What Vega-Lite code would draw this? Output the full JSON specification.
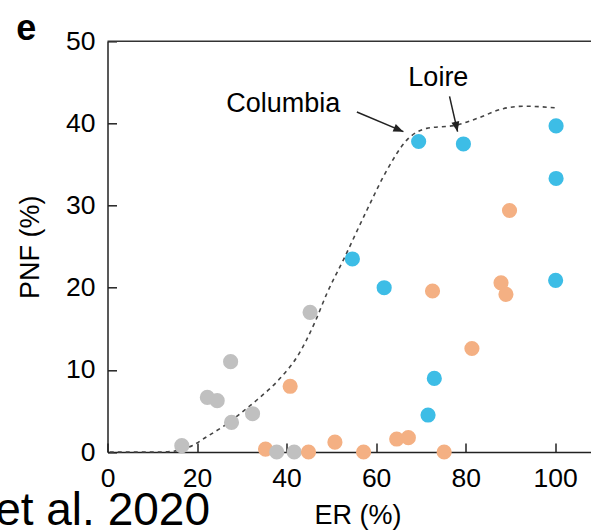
{
  "$schema": "https://vega.github.io/schema/vega-lite/v6.json",
  "width": 483.5,
  "height": 410.7,
  "autosize": "none",
  "padding": {"left": 107.5, "top": 41.3, "right": 0, "bottom": 80},
  "config": {"view": {"stroke": null}, "font": "Liberation Sans"},
  "datasets": {
    "points": [
      {"x": 16.6, "y": 0.77, "group": "gray"},
      {"x": 22.3, "y": 6.65, "group": "gray"},
      {"x": 24.5, "y": 6.25, "group": "gray"},
      {"x": 27.5, "y": 11.0, "group": "gray"},
      {"x": 27.7, "y": 3.6, "group": "gray"},
      {"x": 32.4, "y": 4.66, "group": "gray"},
      {"x": 35.3, "y": 0.36, "group": "orange"},
      {"x": 37.8, "y": 0, "group": "gray"},
      {"x": 40.8, "y": 8.0, "group": "orange"},
      {"x": 41.7, "y": 0, "group": "gray"},
      {"x": 44.9, "y": 0, "group": "orange"},
      {"x": 45.25, "y": 17.0, "group": "gray"},
      {"x": 50.8, "y": 1.2, "group": "orange"},
      {"x": 54.7, "y": 23.5, "group": "blue"},
      {"x": 57.2, "y": 0, "group": "orange"},
      {"x": 61.8, "y": 20.0, "group": "blue"},
      {"x": 64.6, "y": 1.58, "group": "orange"},
      {"x": 67.2, "y": 1.74, "group": "orange"},
      {"x": 69.5, "y": 37.8, "group": "blue"},
      {"x": 71.6, "y": 4.5, "group": "blue"},
      {"x": 72.6, "y": 19.6, "group": "orange"},
      {"x": 73.0, "y": 8.96, "group": "blue"},
      {"x": 75.2, "y": 0, "group": "orange"},
      {"x": 79.5, "y": 37.5, "group": "blue"},
      {"x": 81.4, "y": 12.6, "group": "orange"},
      {"x": 87.9, "y": 20.6, "group": "orange"},
      {"x": 89.0, "y": 19.2, "group": "orange"},
      {"x": 89.8, "y": 29.4, "group": "orange"},
      {"x": 100.1, "y": 20.9, "group": "blue"},
      {"x": 100.2, "y": 33.3, "group": "blue"},
      {"x": 100.2, "y": 39.7, "group": "blue"}
    ],
    "curve": [
      {"x": 0.5, "y": 0}, {"x": 12, "y": 0}, {"x": 16, "y": 0.2}, {"x": 19, "y": 0.8},
      {"x": 22, "y": 1.8}, {"x": 25.8, "y": 3.1}, {"x": 29.5, "y": 4.6}, {"x": 33.3, "y": 6.3},
      {"x": 38.6, "y": 9.0}, {"x": 42.6, "y": 11.8}, {"x": 46.4, "y": 15.9}, {"x": 49, "y": 19.3},
      {"x": 52.7, "y": 23.4}, {"x": 57.9, "y": 29.4}, {"x": 62.4, "y": 34.3}, {"x": 66.9, "y": 38},
      {"x": 71.3, "y": 39.4}, {"x": 78, "y": 39.8}, {"x": 82.5, "y": 40.6}, {"x": 88.4, "y": 41.8},
      {"x": 92.9, "y": 42.1}, {"x": 100, "y": 41.9}
    ]
  },
  "encoding": {
    "x": {
      "field": "x", "type": "quantitative",
      "scale": {"domain": [0, 108], "nice": false, "zero": false},
      "axis": {
        "values": [0, 20, 40, 60, 80, 100], "title": "ER (%)", "grid": false,
        "tickSize": -9, "tickWidth": 1.5, "tickColor": "#222",
        "domainColor": "#222", "domainWidth": 1.5,
        "labelFontSize": 26.5, "labelColor": "#000", "labelPadding": 22, "labelFlush": false,
        "titleFontSize": 27, "titleFontWeight": "normal", "titleColor": "#000",
        "titlePadding": 11, "titleX": 250
      }
    },
    "y": {
      "field": "y", "type": "quantitative",
      "scale": {"domain": [0, 50], "nice": false, "zero": false},
      "axis": {
        "values": [0, 10, 20, 30, 40, 50], "title": "PNF (%)", "grid": false,
        "tickSize": -9, "tickWidth": 1.5, "tickColor": "#222",
        "domainColor": "#222", "domainWidth": 1.5,
        "labelFontSize": 26.5, "labelColor": "#000", "labelPadding": 21.5, "labelFlush": false,
        "titleFontSize": 27, "titleFontWeight": "normal", "titleColor": "#000",
        "titlePadding": 21
      }
    }
  },
  "layer": [
    {
      "data": {"values": [{"x": 0, "x2": 108, "y": 50}]},
      "mark": {"type": "rule", "color": "#333", "strokeWidth": 1.5},
      "encoding": {"x2": {"field": "x2"}}
    },
    {
      "data": {"name": "curve"},
      "mark": {"type": "line", "interpolate": "monotone", "color": "#444", "strokeWidth": 1.6, "strokeDash": [4, 4]}
    },
    {
      "data": {"name": "points"},
      "mark": {"type": "circle", "size": 230, "opacity": 1},
      "encoding": {
        "color": {
          "field": "group", "type": "nominal", "legend": null,
          "scale": {"domain": ["gray", "orange", "blue"], "range": ["#c0c0c0", "#f4b083", "#3dbde6"]}
        }
      }
    },
    {
      "data": {"values": [{"x": 55.7, "y": 41.4, "x2": 66.1, "y2": 39.0}, {"x": 76.4, "y": 43.3, "x2": 78.2, "y2": 39.0}]},
      "mark": {"type": "rule", "color": "#222", "strokeWidth": 1.5},
      "encoding": {"x2": {"field": "x2"}, "y2": {"field": "y2"}}
    },
    {
      "data": {"values": [{"x": 66.1, "y": 39.0}]},
      "mark": {"type": "point", "shape": "M0,0L-2,-0.8L-2,0.8Z", "size": 100, "filled": true, "color": "#222", "opacity": 1, "angle": 23}
    },
    {
      "data": {"values": [{"x": 78.2, "y": 39.0}]},
      "mark": {"type": "point", "shape": "M0,0L-2,-0.8L-2,0.8Z", "size": 100, "filled": true, "color": "#222", "opacity": 1, "angle": 77}
    },
    {
      "data": {"values": [{"x": 26.5, "y": 41.4, "label": "Columbia"}, {"x": 67.2, "y": 44.5, "label": "Loire"}]},
      "mark": {"type": "text", "align": "left", "baseline": "alphabetic", "fontSize": 27, "color": "#000"},
      "encoding": {"text": {"field": "label"}}
    },
    {
      "data": {"values": [{"x": -20.4, "y": 50.2, "label": "e"}]},
      "mark": {"type": "text", "align": "left", "baseline": "alphabetic", "fontSize": 36, "fontWeight": "bold", "color": "#000"},
      "encoding": {"text": {"field": "label"}}
    },
    {
      "data": {"values": [{"x": -25.1, "y": -8.9, "label": "et al. 2020"}]},
      "mark": {"type": "text", "align": "left", "baseline": "alphabetic", "fontSize": 46, "color": "#000"},
      "encoding": {"text": {"field": "label"}}
    }
  ]
}
